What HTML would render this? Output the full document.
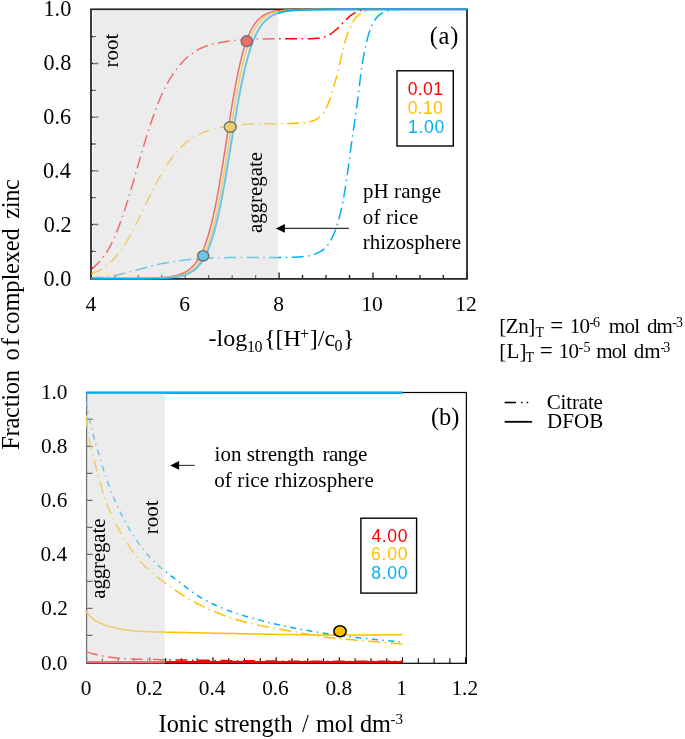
<!DOCTYPE html>
<html><head><meta charset="utf-8"><style>
html,body{margin:0;padding:0;background:#fff;}
body{width:685px;height:739px;overflow:hidden;}
svg{display:block;will-change:transform;}
</style></head><body>
<svg width="685" height="739" viewBox="0 0 685 739">
<rect x="0" y="0" width="685" height="739" fill="#fff"/>
<path d="M91.33 278.9 V272.4 M114.8 278.9 V274.9 M138.27 278.9 V274.9 M161.74 278.9 V274.9 M185.21 278.9 V272.4 M208.68 278.9 V274.9 M232.15 278.9 V274.9 M255.62 278.9 V274.9 M279.09 278.9 V272.4 M302.56 278.9 V274.9 M326.03 278.9 V274.9 M349.5 278.9 V274.9 M372.97 278.9 V272.4 M396.44 278.9 V274.9 M419.91 278.9 V274.9 M443.38 278.9 V274.9 M466.85 278.9 V272.4 M91 251.36 H96 M91 224.52 H98.3 M91 197.68 H96 M91 170.84 H98.3 M91 144 H96 M91 117.16 H98.3 M91 90.32 H96 M91 63.48 H98.3 M91 36.64 H96" stroke="#1a1a1a" stroke-width="1.3" fill="none"/>
<rect x="91" y="9.3" width="376" height="269.6" fill="none" stroke="#2a2a2a" stroke-width="1.8"/>
<path d="M91.33 269.11C91.74 268.78 92.96 267.83 93.75 267.17C94.53 266.51 95.29 265.83 96.03 265.14C96.77 264.45 97.48 263.74 98.18 263.01C98.88 262.29 99.56 261.55 100.22 260.79C100.88 260.04 101.52 259.27 102.15 258.49C102.77 257.71 103.38 256.92 103.97 256.11C104.56 255.31 105.14 254.49 105.7 253.66C106.25 252.84 106.8 252 107.33 251.15C107.86 250.3 108.37 249.44 108.87 248.57C109.37 247.7 109.86 246.82 110.34 245.94C110.81 245.05 111.28 244.16 111.73 243.26C112.18 242.36 112.62 241.45 113.05 240.54C113.49 239.62 113.91 238.7 114.32 237.78C114.73 236.85 115.13 235.92 115.53 234.98C115.92 234.05 116.31 233.11 116.69 232.17C117.07 231.23 117.45 230.28 117.81 229.33C118.18 228.38 118.54 227.43 118.9 226.48C119.26 225.53 119.61 224.58 119.96 223.62C120.31 222.67 120.65 221.72 120.99 220.76C121.33 219.81 121.67 218.85 122 217.9C122.34 216.94 122.67 215.98 122.99 215.03C123.32 214.07 123.64 213.11 123.96 212.16C124.28 211.2 124.6 210.24 124.91 209.28C125.23 208.32 125.54 207.36 125.85 206.4C126.16 205.44 126.46 204.48 126.77 203.52C127.07 202.56 127.37 201.6 127.67 200.63C127.97 199.67 128.27 198.71 128.56 197.75C128.86 196.79 129.15 195.82 129.44 194.86C129.73 193.9 130.02 192.93 130.31 191.97C130.6 191 130.88 190.04 131.17 189.07C131.45 188.11 131.74 187.14 132.02 186.18C132.3 185.21 132.58 184.25 132.86 183.28C133.14 182.31 133.42 181.35 133.7 180.38C133.98 179.41 134.26 178.45 134.54 177.48C134.81 176.51 135.09 175.55 135.37 174.58C135.64 173.61 135.92 172.64 136.2 171.68C136.47 170.71 136.75 169.74 137.03 168.77C137.3 167.81 137.58 166.84 137.86 165.87C138.14 164.9 138.41 163.93 138.69 162.96C138.97 162 139.25 161.03 139.53 160.06C139.81 159.09 140.09 158.12 140.37 157.15C140.65 156.19 140.93 155.22 141.22 154.25C141.5 153.28 141.78 152.31 142.07 151.35C142.35 150.38 142.64 149.41 142.93 148.44C143.21 147.48 143.5 146.51 143.79 145.54C144.08 144.58 144.37 143.61 144.67 142.64C144.96 141.68 145.25 140.71 145.55 139.75C145.85 138.78 146.14 137.82 146.44 136.86C146.74 135.89 147.04 134.93 147.35 133.96C147.65 133 147.96 132.04 148.26 131.08C148.57 130.12 148.88 129.16 149.19 128.19C149.51 127.23 149.82 126.27 150.14 125.32C150.45 124.36 150.77 123.4 151.09 122.44C151.42 121.48 151.74 120.53 152.07 119.57C152.39 118.62 152.72 117.66 153.06 116.71C153.39 115.76 153.72 114.8 154.06 113.85C154.4 112.9 154.74 111.95 155.09 111C155.44 110.05 155.79 109.11 156.15 108.16C156.5 107.22 156.86 106.28 157.23 105.34C157.6 104.4 157.97 103.46 158.34 102.53C158.72 101.59 159.1 100.66 159.49 99.73C159.88 98.8 160.28 97.88 160.68 96.95C161.08 96.03 161.49 95.11 161.91 94.19C162.33 93.28 162.75 92.37 163.19 91.46C163.62 90.55 164.06 89.65 164.51 88.75C164.96 87.85 165.42 86.95 165.89 86.06C166.36 85.17 166.83 84.28 167.32 83.4C167.81 82.52 168.3 81.64 168.81 80.77C169.32 79.9 169.83 79.04 170.36 78.18C170.89 77.32 171.43 76.46 171.98 75.61C172.53 74.76 173.09 73.92 173.66 73.08C174.24 72.25 174.82 71.42 175.42 70.59C176.02 69.77 176.63 68.95 177.25 68.15C177.88 67.34 178.51 66.55 179.16 65.76C179.81 64.98 180.47 64.21 181.15 63.45C181.82 62.69 182.51 61.94 183.21 61.21C183.91 60.48 184.62 59.76 185.35 59.06C186.08 58.36 186.82 57.68 187.58 57.01C188.33 56.35 189.1 55.7 189.88 55.08C190.67 54.46 191.46 53.85 192.28 53.27C193.09 52.69 193.91 52.13 194.75 51.59C195.59 51.06 196.45 50.55 197.32 50.06C198.19 49.58 199.07 49.12 199.97 48.68C200.87 48.25 201.78 47.84 202.7 47.45C203.62 47.06 204.56 46.7 205.5 46.35C206.44 46 207.4 45.68 208.36 45.37C209.32 45.07 210.29 44.78 211.27 44.51C212.25 44.24 213.23 43.98 214.22 43.74C215.21 43.5 216.2 43.28 217.2 43.07C218.2 42.86 219.2 42.66 220.2 42.47C221.21 42.29 222.21 42.11 223.22 41.95C224.22 41.78 225.23 41.62 226.24 41.48C227.24 41.33 228.25 41.19 229.26 41.06C230.26 40.93 231.27 40.81 232.28 40.69C233.28 40.58 234.29 40.47 235.3 40.37C236.3 40.27 237.31 40.18 238.32 40.09C239.32 40.01 240.33 39.93 241.34 39.86C242.34 39.78 243.35 39.71 244.36 39.65C245.36 39.59 246.37 39.53 247.37 39.48C248.38 39.43 249.38 39.38 250.39 39.34C251.4 39.29 252.4 39.25 253.4 39.22C254.41 39.18 255.41 39.15 256.42 39.12C257.42 39.09 258.42 39.07 259.43 39.04C260.43 39.02 261.43 39 262.44 38.98C263.44 38.96 264.44 38.94 265.44 38.93C266.44 38.91 267.44 38.9 268.44 38.89C269.45 38.87 270.45 38.86 271.45 38.85C272.45 38.85 273.45 38.84 274.45 38.83C275.45 38.82 276.46 38.82 277.46 38.81C278.46 38.81 279.47 38.81 280.47 38.8C281.47 38.8 282.48 38.8 283.48 38.8C284.49 38.8 285.49 38.79 286.5 38.79C287.51 38.79 288.52 38.79 289.53 38.79C290.54 38.79 291.55 38.79 292.56 38.79C293.57 38.79 294.59 38.79 295.6 38.79C296.62 38.79 297.64 38.79 298.66 38.78C299.67 38.78 300.7 38.78 301.72 38.78C302.74 38.77 303.77 38.77 304.79 38.76C305.82 38.76 306.85 38.76 307.88 38.75C308.91 38.74 309.94 38.73 310.97 38.7C312 38.67 313.03 38.64 314.05 38.58C315.07 38.52 316.08 38.45 317.09 38.35C318.09 38.24 319.08 38.11 320.06 37.94C321.04 37.77 322.01 37.58 322.96 37.33C323.91 37.08 324.84 36.8 325.75 36.46C326.67 36.12 327.56 35.73 328.42 35.28C329.29 34.84 330.14 34.33 330.96 33.78C331.79 33.24 332.59 32.64 333.38 32.02C334.17 31.39 334.94 30.72 335.7 30.04C336.46 29.36 337.21 28.64 337.95 27.91C338.68 27.19 339.41 26.45 340.13 25.7C340.86 24.96 341.57 24.21 342.28 23.47C343 22.73 343.71 21.98 344.43 21.26C345.14 20.53 345.86 19.81 346.59 19.12C347.32 18.42 348.05 17.74 348.8 17.09C349.56 16.44 350.32 15.81 351.1 15.22C351.89 14.64 352.69 14.08 353.52 13.56C354.35 13.05 355.2 12.57 356.08 12.15C356.96 11.73 357.87 11.36 358.81 11.03C359.75 10.71 360.73 10.44 361.71 10.2C362.7 9.97 363.72 9.79 364.74 9.63C365.76 9.48 366.8 9.36 367.83 9.3C368.87 9.24 369.92 9.3 370.96 9.3C372 9.3 373.05 9.3 374.07 9.3C375.1 9.3 376.12 9.29 377.12 9.3C378.12 9.31 379.57 9.36 380.06 9.37" fill="none" stroke="#FF0000" stroke-width="1.5" stroke-dasharray="12 4.5 1.5 4.5" stroke-linejoin="round"/>
<path d="M91.14 273.88C91.63 273.7 93.14 273.17 94.11 272.78C95.08 272.39 96.03 271.97 96.96 271.52C97.89 271.08 98.79 270.61 99.68 270.12C100.57 269.63 101.44 269.11 102.29 268.58C103.14 268.04 103.97 267.48 104.78 266.9C105.59 266.32 106.39 265.72 107.17 265.1C107.95 264.48 108.71 263.84 109.45 263.19C110.2 262.53 110.93 261.86 111.64 261.17C112.35 260.48 113.05 259.77 113.74 259.05C114.42 258.33 115.09 257.59 115.75 256.84C116.4 256.09 117.04 255.32 117.68 254.54C118.31 253.76 118.92 252.97 119.53 252.17C120.14 251.37 120.73 250.56 121.31 249.73C121.9 248.91 122.47 248.08 123.03 247.24C123.6 246.4 124.15 245.55 124.69 244.69C125.24 243.83 125.77 242.97 126.3 242.1C126.83 241.23 127.34 240.35 127.86 239.47C128.37 238.59 128.87 237.7 129.37 236.81C129.87 235.93 130.36 235.03 130.84 234.14C131.33 233.25 131.81 232.35 132.29 231.45C132.76 230.56 133.23 229.66 133.7 228.76C134.17 227.87 134.63 226.97 135.09 226.07C135.55 225.17 136.01 224.27 136.46 223.38C136.91 222.48 137.36 221.58 137.81 220.68C138.26 219.78 138.7 218.88 139.15 217.98C139.59 217.08 140.03 216.18 140.47 215.28C140.91 214.38 141.35 213.49 141.78 212.59C142.22 211.69 142.66 210.79 143.09 209.89C143.53 208.99 143.96 208.09 144.4 207.19C144.83 206.29 145.26 205.39 145.7 204.5C146.13 203.6 146.57 202.7 147.01 201.8C147.44 200.9 147.88 200.01 148.32 199.11C148.76 198.21 149.2 197.31 149.64 196.42C150.08 195.52 150.52 194.63 150.97 193.73C151.42 192.83 151.87 191.94 152.32 191.05C152.77 190.15 153.22 189.26 153.68 188.36C154.14 187.47 154.6 186.58 155.07 185.69C155.53 184.8 156 183.9 156.47 183.01C156.95 182.12 157.43 181.24 157.91 180.35C158.39 179.46 158.88 178.57 159.37 177.68C159.87 176.8 160.37 175.91 160.87 175.03C161.38 174.14 161.89 173.26 162.4 172.38C162.92 171.5 163.44 170.63 163.98 169.75C164.51 168.88 165.04 168.01 165.59 167.15C166.13 166.29 166.69 165.43 167.25 164.58C167.81 163.73 168.38 162.88 168.95 162.04C169.53 161.2 170.11 160.37 170.71 159.55C171.3 158.73 171.91 157.91 172.52 157.11C173.13 156.3 173.76 155.51 174.39 154.72C175.02 153.94 175.66 153.16 176.32 152.4C176.97 151.64 177.63 150.88 178.31 150.15C178.98 149.41 179.67 148.68 180.37 147.97C181.06 147.26 181.77 146.56 182.49 145.88C183.21 145.19 183.95 144.52 184.69 143.87C185.44 143.22 186.19 142.58 186.97 141.96C187.74 141.34 188.52 140.74 189.32 140.15C190.12 139.57 190.93 139 191.75 138.46C192.58 137.91 193.42 137.38 194.27 136.87C195.13 136.37 196 135.88 196.88 135.41C197.77 134.95 198.67 134.5 199.58 134.08C200.49 133.65 201.41 133.24 202.34 132.86C203.28 132.47 204.22 132.1 205.18 131.75C206.13 131.39 207.09 131.06 208.06 130.74C209.03 130.42 210.01 130.12 210.99 129.83C211.96 129.54 212.95 129.27 213.94 129C214.92 128.74 215.92 128.5 216.91 128.26C217.9 128.02 218.89 127.8 219.88 127.59C220.87 127.38 221.87 127.18 222.86 126.99C223.85 126.8 224.85 126.62 225.84 126.45C226.83 126.28 227.83 126.13 228.82 125.98C229.82 125.83 230.81 125.69 231.81 125.56C232.8 125.43 233.8 125.31 234.8 125.2C235.79 125.08 236.79 124.98 237.79 124.88C238.78 124.79 239.78 124.7 240.78 124.62C241.78 124.53 242.77 124.46 243.77 124.39C244.77 124.32 245.77 124.26 246.77 124.21C247.77 124.15 248.77 124.1 249.77 124.06C250.76 124.01 251.76 123.97 252.76 123.94C253.76 123.9 254.76 123.87 255.76 123.85C256.76 123.82 257.77 123.8 258.77 123.78C259.77 123.76 260.77 123.74 261.77 123.73C262.77 123.72 263.78 123.71 264.78 123.7C265.78 123.69 266.78 123.68 267.79 123.67C268.79 123.67 269.8 123.66 270.8 123.66C271.81 123.65 272.81 123.65 273.82 123.64C274.83 123.64 275.83 123.63 276.84 123.63C277.85 123.62 278.86 123.62 279.87 123.61C280.87 123.6 281.88 123.59 282.9 123.58C283.91 123.57 284.92 123.55 285.93 123.53C286.94 123.52 287.96 123.5 288.97 123.47C289.98 123.45 291 123.42 292.02 123.39C293.03 123.35 294.05 123.32 295.07 123.28C296.08 123.23 297.1 123.19 298.12 123.13C299.14 123.08 300.17 123.03 301.19 122.96C302.21 122.89 303.23 122.82 304.24 122.71C305.26 122.6 306.27 122.49 307.26 122.32C308.26 122.15 309.25 121.95 310.22 121.69C311.18 121.44 312.14 121.13 313.07 120.77C313.99 120.42 314.9 120.01 315.77 119.55C316.63 119.09 317.48 118.58 318.27 118.02C319.06 117.46 319.82 116.84 320.53 116.18C321.23 115.53 321.89 114.81 322.51 114.07C323.13 113.32 323.69 112.52 324.23 111.7C324.77 110.87 325.27 110.01 325.74 109.13C326.21 108.24 326.65 107.32 327.07 106.39C327.49 105.46 327.87 104.5 328.25 103.54C328.63 102.57 328.98 101.59 329.32 100.61C329.67 99.63 330 98.64 330.32 97.65C330.65 96.67 330.97 95.69 331.29 94.71C331.6 93.73 331.91 92.75 332.22 91.78C332.53 90.81 332.83 89.84 333.12 88.88C333.42 87.91 333.71 86.94 334 85.98C334.29 85.02 334.57 84.05 334.84 83.09C335.12 82.13 335.39 81.17 335.66 80.21C335.92 79.24 336.18 78.28 336.44 77.32C336.69 76.35 336.94 75.39 337.18 74.42C337.43 73.46 337.66 72.49 337.9 71.52C338.13 70.55 338.36 69.58 338.58 68.6C338.81 67.63 339.03 66.66 339.25 65.68C339.47 64.71 339.69 63.73 339.91 62.75C340.13 61.78 340.35 60.8 340.57 59.82C340.79 58.84 341.01 57.86 341.23 56.88C341.46 55.91 341.68 54.93 341.91 53.95C342.14 52.97 342.37 51.99 342.61 51.01C342.85 50.03 343.09 49.05 343.34 48.08C343.59 47.1 343.84 46.12 344.1 45.15C344.37 44.17 344.64 43.19 344.92 42.22C345.19 41.25 345.48 40.27 345.78 39.3C346.08 38.33 346.39 37.36 346.71 36.39C347.03 35.42 347.36 34.46 347.7 33.49C348.04 32.53 348.4 31.56 348.77 30.61C349.14 29.65 349.53 28.7 349.94 27.76C350.35 26.82 350.78 25.89 351.23 24.99C351.69 24.09 352.16 23.2 352.67 22.35C353.18 21.49 353.72 20.66 354.29 19.86C354.86 19.07 355.47 18.3 356.11 17.58C356.76 16.86 357.43 16.17 358.16 15.54C358.89 14.91 359.65 14.32 360.47 13.79C361.28 13.26 362.14 12.78 363.03 12.35C363.92 11.91 364.86 11.53 365.81 11.19C366.77 10.85 367.76 10.55 368.76 10.3C369.77 10.04 370.8 9.81 371.83 9.64C372.87 9.48 373.92 9.36 374.97 9.3C376.02 9.24 377.09 9.3 378.14 9.3C379.18 9.3 380.24 9.3 381.27 9.3C382.3 9.3 383.33 9.3 384.33 9.3C385.32 9.3 386.31 9.29 387.26 9.3C388.21 9.31 389.55 9.35 390.01 9.36" fill="none" stroke="#FFC000" stroke-width="1.5" stroke-dasharray="12 4.5 1.5 4.5" stroke-linejoin="round"/>
<path d="M91.25 277.58C91.76 277.59 93.31 277.63 94.33 277.63C95.35 277.63 96.37 277.61 97.39 277.58C98.4 277.54 99.41 277.49 100.42 277.42C101.43 277.35 102.44 277.26 103.44 277.16C104.45 277.07 105.45 276.95 106.45 276.83C107.45 276.7 108.44 276.56 109.44 276.41C110.43 276.25 111.42 276.09 112.41 275.91C113.4 275.74 114.39 275.55 115.38 275.36C116.37 275.16 117.35 274.95 118.33 274.74C119.32 274.53 120.3 274.3 121.28 274.07C122.26 273.84 123.24 273.61 124.21 273.36C125.19 273.12 126.17 272.87 127.14 272.62C128.12 272.37 129.1 272.11 130.07 271.84C131.05 271.58 132.02 271.32 132.99 271.05C133.97 270.78 134.94 270.51 135.91 270.24C136.89 269.97 137.86 269.7 138.83 269.42C139.81 269.15 140.78 268.88 141.75 268.61C142.73 268.34 143.7 268.07 144.68 267.8C145.65 267.53 146.63 267.27 147.6 267.01C148.58 266.75 149.56 266.49 150.54 266.24C151.52 265.99 152.49 265.74 153.48 265.5C154.46 265.26 155.44 265.02 156.42 264.79C157.41 264.57 158.39 264.35 159.38 264.13C160.36 263.92 161.35 263.71 162.34 263.51C163.33 263.31 164.32 263.12 165.31 262.93C166.31 262.75 167.3 262.57 168.29 262.39C169.29 262.22 170.28 262.05 171.28 261.89C172.28 261.73 173.27 261.57 174.27 261.42C175.27 261.27 176.27 261.13 177.27 260.99C178.27 260.85 179.27 260.72 180.27 260.59C181.27 260.46 182.28 260.34 183.28 260.22C184.28 260.1 185.29 259.99 186.29 259.88C187.3 259.78 188.3 259.67 189.31 259.58C190.31 259.48 191.32 259.38 192.33 259.29C193.33 259.21 194.34 259.12 195.35 259.04C196.35 258.96 197.36 258.88 198.37 258.81C199.38 258.74 200.39 258.67 201.39 258.61C202.4 258.54 203.41 258.48 204.42 258.42C205.43 258.37 206.44 258.31 207.44 258.26C208.45 258.21 209.46 258.16 210.47 258.12C211.48 258.07 212.49 258.03 213.49 257.99C214.5 257.96 215.51 257.92 216.52 257.89C217.52 257.85 218.53 257.82 219.54 257.8C220.55 257.77 221.55 257.74 222.56 257.72C223.57 257.69 224.58 257.67 225.58 257.65C226.59 257.64 227.6 257.62 228.6 257.6C229.61 257.59 230.62 257.58 231.63 257.56C232.63 257.55 233.64 257.54 234.65 257.53C235.65 257.53 236.66 257.52 237.67 257.51C238.68 257.51 239.68 257.5 240.69 257.5C241.7 257.5 242.71 257.5 243.72 257.49C244.72 257.49 245.73 257.49 246.74 257.49C247.75 257.49 248.76 257.49 249.77 257.5C250.77 257.5 251.78 257.5 252.79 257.5C253.8 257.5 254.81 257.51 255.82 257.51C256.83 257.51 257.84 257.52 258.85 257.52C259.86 257.52 260.87 257.52 261.88 257.53C262.89 257.53 263.91 257.53 264.92 257.53C265.93 257.54 266.94 257.54 267.95 257.54C268.97 257.54 269.98 257.54 270.99 257.54C272.01 257.54 273.02 257.53 274.03 257.53C275.05 257.53 276.06 257.53 277.08 257.52C278.09 257.52 279.11 257.51 280.13 257.5C281.14 257.49 282.16 257.49 283.18 257.47C284.19 257.46 285.21 257.45 286.23 257.44C287.25 257.42 288.27 257.41 289.29 257.39C290.31 257.37 291.33 257.35 292.35 257.33C293.37 257.3 294.39 257.27 295.41 257.23C296.42 257.19 297.44 257.15 298.46 257.09C299.47 257.02 300.48 256.95 301.49 256.86C302.49 256.76 303.5 256.65 304.49 256.52C305.49 256.39 306.48 256.23 307.47 256.05C308.45 255.87 309.43 255.67 310.4 255.43C311.37 255.19 312.33 254.93 313.29 254.63C314.24 254.33 315.18 253.99 316.11 253.62C317.04 253.25 317.97 252.84 318.86 252.38C319.76 251.93 320.64 251.44 321.48 250.9C322.32 250.36 323.14 249.78 323.91 249.15C324.67 248.52 325.4 247.84 326.08 247.12C326.76 246.4 327.39 245.62 327.99 244.82C328.59 244.02 329.14 243.17 329.67 242.31C330.2 241.45 330.69 240.56 331.16 239.66C331.64 238.77 332.09 237.85 332.53 236.94C332.96 236.02 333.37 235.09 333.77 234.16C334.17 233.23 334.55 232.29 334.92 231.34C335.28 230.4 335.63 229.44 335.97 228.48C336.3 227.53 336.62 226.56 336.93 225.6C337.25 224.63 337.54 223.66 337.83 222.69C338.12 221.71 338.4 220.74 338.67 219.76C338.94 218.78 339.2 217.8 339.46 216.82C339.72 215.84 339.97 214.86 340.21 213.88C340.45 212.9 340.69 211.91 340.92 210.93C341.15 209.95 341.37 208.96 341.59 207.98C341.81 206.99 342.02 206.01 342.23 205.02C342.44 204.03 342.64 203.05 342.83 202.06C343.03 201.07 343.22 200.08 343.41 199.09C343.6 198.1 343.78 197.11 343.96 196.12C344.14 195.13 344.31 194.14 344.48 193.14C344.65 192.15 344.82 191.16 344.98 190.17C345.15 189.17 345.31 188.18 345.46 187.18C345.62 186.19 345.77 185.19 345.92 184.2C346.08 183.2 346.22 182.21 346.37 181.21C346.52 180.21 346.66 179.21 346.8 178.22C346.94 177.22 347.08 176.22 347.22 175.22C347.36 174.22 347.49 173.23 347.63 172.23C347.76 171.23 347.9 170.23 348.03 169.23C348.17 168.23 348.3 167.23 348.43 166.23C348.56 165.22 348.69 164.22 348.83 163.22C348.96 162.22 349.09 161.22 349.22 160.22C349.35 159.21 349.48 158.21 349.62 157.21C349.75 156.21 349.88 155.21 350.02 154.2C350.15 153.2 350.29 152.2 350.42 151.19C350.56 150.19 350.7 149.19 350.84 148.18C350.98 147.18 351.12 146.18 351.26 145.17C351.4 144.17 351.54 143.17 351.68 142.16C351.83 141.16 351.97 140.16 352.11 139.15C352.26 138.15 352.4 137.14 352.55 136.14C352.69 135.14 352.84 134.13 352.98 133.13C353.13 132.13 353.27 131.12 353.42 130.12C353.56 129.12 353.71 128.11 353.85 127.11C354 126.11 354.14 125.1 354.29 124.1C354.43 123.1 354.58 122.09 354.72 121.09C354.87 120.09 355.01 119.09 355.15 118.08C355.3 117.08 355.44 116.08 355.58 115.08C355.72 114.08 355.86 113.07 356 112.07C356.14 111.07 356.28 110.07 356.42 109.07C356.56 108.07 356.7 107.07 356.83 106.07C356.97 105.07 357.1 104.07 357.24 103.07C357.37 102.07 357.5 101.07 357.63 100.08C357.76 99.08 357.89 98.08 358.01 97.08C358.14 96.09 358.26 95.09 358.39 94.09C358.51 93.1 358.63 92.1 358.75 91.1C358.88 90.11 359 89.11 359.12 88.12C359.24 87.12 359.35 86.13 359.47 85.13C359.59 84.14 359.71 83.15 359.84 82.15C359.96 81.16 360.08 80.16 360.2 79.17C360.33 78.18 360.45 77.18 360.58 76.19C360.71 75.19 360.83 74.2 360.97 73.21C361.1 72.21 361.23 71.22 361.37 70.23C361.51 69.23 361.65 68.24 361.79 67.24C361.94 66.25 362.08 65.25 362.24 64.26C362.39 63.27 362.55 62.27 362.71 61.28C362.87 60.28 363.04 59.28 363.21 58.29C363.38 57.29 363.56 56.3 363.74 55.3C363.92 54.3 364.11 53.3 364.31 52.31C364.51 51.31 364.71 50.31 364.92 49.31C365.13 48.31 365.35 47.31 365.57 46.31C365.8 45.31 366.03 44.31 366.27 43.31C366.51 42.31 366.76 41.31 367.02 40.3C367.27 39.3 367.54 38.3 367.82 37.29C368.09 36.29 368.38 35.28 368.68 34.28C368.98 33.28 369.28 32.28 369.61 31.29C369.94 30.3 370.29 29.32 370.66 28.36C371.03 27.4 371.41 26.46 371.83 25.53C372.24 24.61 372.68 23.71 373.15 22.84C373.62 21.97 374.12 21.12 374.65 20.32C375.19 19.51 375.75 18.73 376.36 18C376.97 17.26 377.61 16.57 378.3 15.92C378.99 15.28 379.71 14.67 380.49 14.12C381.27 13.58 382.09 13.08 382.96 12.64C383.83 12.2 384.74 11.81 385.68 11.47C386.63 11.12 387.61 10.83 388.61 10.57C389.61 10.32 390.64 10.11 391.68 9.93C392.72 9.74 393.78 9.59 394.84 9.49C395.9 9.39 396.97 9.33 398.03 9.3C399.09 9.27 400.16 9.3 401.2 9.3C402.24 9.3 403.28 9.3 404.29 9.3C405.29 9.3 406.28 9.29 407.23 9.3C408.18 9.31 409.53 9.36 409.99 9.37" fill="none" stroke="#00B0F0" stroke-width="1.5" stroke-dasharray="12 4.5 1.5 4.5" stroke-linejoin="round"/>
<path d="M91.33 278.49C93.48 278.49 99.94 278.49 104.24 278.49C108.54 278.48 112.84 278.48 117.15 278.47C121.45 278.46 125.75 278.45 130.06 278.42C134.36 278.39 139.64 278.34 142.96 278.29C146.29 278.24 148.05 278.19 150.01 278.14C151.96 278.09 153.33 278.03 154.7 277.98C156.07 277.92 157.05 277.88 158.22 277.81C159.39 277.74 160.76 277.65 161.74 277.58C162.72 277.52 163.3 277.46 164.09 277.39C164.87 277.32 165.65 277.25 166.43 277.16C167.22 277.07 168.19 276.95 168.78 276.87C169.37 276.8 169.56 276.77 169.95 276.71C170.35 276.65 170.74 276.59 171.13 276.53C171.52 276.46 171.91 276.4 172.3 276.33C172.69 276.26 173.08 276.18 173.48 276.1C173.87 276.03 174.26 275.94 174.65 275.86C175.04 275.77 175.43 275.68 175.82 275.59C176.21 275.49 176.6 275.39 177 275.29C177.39 275.18 177.78 275.07 178.17 274.95C178.56 274.84 178.95 274.72 179.34 274.59C179.73 274.46 180.12 274.32 180.52 274.18C180.91 274.04 181.3 273.89 181.69 273.73C182.08 273.58 182.47 273.41 182.86 273.24C183.25 273.07 183.65 272.88 184.04 272.69C184.43 272.5 184.82 272.3 185.21 272.09C185.6 271.87 185.99 271.65 186.38 271.42C186.77 271.18 187.17 270.94 187.56 270.68C187.95 270.42 188.34 270.15 188.73 269.86C189.12 269.58 189.51 269.28 189.9 268.96C190.3 268.65 190.69 268.32 191.08 267.97C191.47 267.62 191.86 267.26 192.25 266.87C192.64 266.49 193.03 266.09 193.42 265.66C193.82 265.24 194.21 264.8 194.6 264.33C194.99 263.87 195.38 263.38 195.77 262.87C196.16 262.35 196.55 261.82 196.95 261.25C197.34 260.69 197.73 260.1 198.12 259.48C198.51 258.86 198.9 258.22 199.29 257.54C199.68 256.86 200.07 256.15 200.47 255.4C200.86 254.66 201.25 253.89 201.64 253.07C202.03 252.26 202.42 251.41 202.81 250.52C203.2 249.63 203.59 248.71 203.99 247.74C204.38 246.77 204.77 245.76 205.16 244.71C205.55 243.65 205.94 242.56 206.33 241.41C206.72 240.27 207.12 239.08 207.51 237.84C207.9 236.6 208.29 235.32 208.68 233.98C209.07 232.65 209.46 231.26 209.85 229.82C210.24 228.39 210.64 226.9 211.03 225.35C211.42 223.81 211.81 222.22 212.2 220.57C212.59 218.92 212.98 217.21 213.37 215.46C213.77 213.7 214.16 211.89 214.55 210.03C214.94 208.17 215.33 206.25 215.72 204.28C216.11 202.32 216.5 200.3 216.89 198.23C217.29 196.17 217.68 194.05 218.07 191.89C218.46 189.73 218.85 187.52 219.24 185.27C219.63 183.02 220.02 180.73 220.42 178.4C220.81 176.08 221.2 173.71 221.59 171.32C221.98 168.93 222.37 166.5 222.76 164.05C223.15 161.61 223.54 159.13 223.94 156.64C224.33 154.15 224.72 151.64 225.11 149.13C225.5 146.62 225.89 144.09 226.28 141.57C226.67 139.04 227.06 136.51 227.46 133.99C227.85 131.48 228.24 128.96 228.63 126.46C229.02 123.97 229.41 121.48 229.8 119.02C230.19 116.57 230.59 114.12 230.98 111.72C231.37 109.31 231.76 106.93 232.15 104.59C232.54 102.25 232.93 99.93 233.32 97.67C233.71 95.41 234.11 93.18 234.5 91C234.89 88.83 235.28 86.69 235.67 84.61C236.06 82.53 236.45 80.5 236.84 78.52C237.24 76.54 237.63 74.61 238.02 72.74C238.41 70.87 238.8 69.06 239.19 67.3C239.58 65.53 239.97 63.83 240.36 62.18C240.76 60.53 241.15 58.94 241.54 57.4C241.93 55.87 242.32 54.38 242.71 52.96C243.1 51.53 243.49 50.16 243.89 48.84C244.28 47.52 244.67 46.25 245.06 45.04C245.45 43.82 245.84 42.66 246.23 41.54C246.62 40.42 247.01 39.36 247.41 38.34C247.8 37.31 248.19 36.34 248.58 35.41C248.97 34.47 249.36 33.59 249.75 32.74C250.14 31.89 250.53 31.08 250.93 30.31C251.32 29.54 251.71 28.81 252.1 28.11C252.49 27.41 252.88 26.75 253.27 26.12C253.66 25.49 254.06 24.9 254.45 24.33C254.84 23.76 255.23 23.22 255.62 22.71C256.01 22.19 256.4 21.71 256.79 21.25C257.18 20.79 257.58 20.36 257.97 19.94C258.36 19.53 258.75 19.14 259.14 18.77C259.53 18.4 259.92 18.05 260.31 17.72C260.71 17.39 261.1 17.08 261.49 16.78C261.88 16.48 262.27 16.21 262.66 15.94C263.05 15.68 263.44 15.43 263.83 15.19C264.23 14.96 264.62 14.73 265.01 14.52C265.4 14.31 265.79 14.12 266.18 13.93C266.57 13.74 266.96 13.57 267.36 13.4C267.75 13.23 268.14 13.08 268.53 12.93C268.92 12.78 269.31 12.64 269.7 12.51C270.09 12.38 270.48 12.25 270.88 12.14C271.27 12.02 271.66 11.91 272.05 11.81C272.44 11.7 272.83 11.61 273.22 11.52C273.61 11.42 274 11.34 274.4 11.26C274.79 11.17 275.18 11.1 275.57 11.03C275.96 10.95 276.35 10.89 276.74 10.82C277.13 10.76 277.53 10.7 277.92 10.64C278.31 10.59 278.5 10.55 279.09 10.48C279.68 10.41 280.65 10.3 281.44 10.22C282.22 10.14 283 10.07 283.78 10.01C284.57 9.95 285.15 9.91 286.13 9.85C287.11 9.8 288.28 9.73 289.65 9.67C291.02 9.62 291.8 9.57 294.35 9.52C296.89 9.47 301 9.4 304.91 9.37C308.82 9.33 313.51 9.33 317.82 9.32C322.12 9.3 326.42 9.31 330.72 9.3C335.03 9.3 339.33 9.3 343.63 9.3C347.94 9.3 352.24 9.3 356.54 9.3C360.84 9.3 365.15 9.3 369.45 9.3C373.75 9.3 378.06 9.3 382.36 9.3C386.66 9.3 390.96 9.3 395.27 9.3C399.57 9.3 403.87 9.3 408.18 9.3C412.48 9.3 416.78 9.3 421.08 9.3C425.39 9.3 429.69 9.3 433.99 9.3C438.29 9.3 442.6 9.3 446.9 9.3C451.2 9.3 456.48 9.3 459.81 9.3C463.13 9.3 465.68 9.3 466.85 9.3" fill="none" stroke="#FF0000" stroke-width="1.5" stroke-linejoin="round"/>
<path d="M91.33 278.5C93.48 278.5 99.94 278.5 104.24 278.5C108.54 278.49 112.84 278.49 117.15 278.49C121.45 278.48 125.75 278.48 130.06 278.47C134.36 278.45 139.05 278.43 142.96 278.39C146.88 278.35 150.79 278.29 153.53 278.23C156.26 278.17 157.83 278.1 159.39 278.04C160.96 277.98 161.74 277.94 162.91 277.87C164.09 277.81 165.46 277.72 166.43 277.64C167.41 277.57 168 277.52 168.78 277.44C169.56 277.37 170.35 277.29 171.13 277.2C171.91 277.11 172.89 276.97 173.48 276.89C174.06 276.81 174.26 276.78 174.65 276.71C175.04 276.65 175.43 276.58 175.82 276.51C176.21 276.44 176.6 276.37 177 276.29C177.39 276.22 177.78 276.13 178.17 276.05C178.56 275.96 178.95 275.87 179.34 275.78C179.73 275.68 180.12 275.58 180.52 275.47C180.91 275.37 181.3 275.25 181.69 275.14C182.08 275.02 182.47 274.89 182.86 274.76C183.25 274.63 183.65 274.49 184.04 274.34C184.43 274.2 184.82 274.05 185.21 273.88C185.6 273.72 185.99 273.55 186.38 273.37C186.77 273.19 187.17 273 187.56 272.8C187.95 272.6 188.34 272.39 188.73 272.17C189.12 271.95 189.51 271.71 189.9 271.47C190.3 271.22 190.69 270.96 191.08 270.69C191.47 270.42 191.86 270.13 192.25 269.83C192.64 269.53 193.03 269.21 193.42 268.88C193.82 268.54 194.21 268.19 194.6 267.82C194.99 267.45 195.38 267.06 195.77 266.65C196.16 266.24 196.55 265.81 196.95 265.36C197.34 264.91 197.73 264.44 198.12 263.94C198.51 263.44 198.9 262.92 199.29 262.36C199.68 261.81 200.07 261.24 200.47 260.63C200.86 260.03 201.25 259.39 201.64 258.73C202.03 258.06 202.42 257.37 202.81 256.64C203.2 255.9 203.59 255.14 203.99 254.34C204.38 253.54 204.77 252.7 205.16 251.83C205.55 250.95 205.94 250.04 206.33 249.08C206.72 248.12 207.12 247.12 207.51 246.08C207.9 245.04 208.29 243.95 208.68 242.82C209.07 241.69 209.46 240.51 209.85 239.28C210.24 238.06 210.64 236.78 211.03 235.46C211.42 234.13 211.81 232.75 212.2 231.33C212.59 229.9 212.98 228.42 213.37 226.88C213.77 225.35 214.16 223.77 214.55 222.13C214.94 220.49 215.33 218.79 215.72 217.05C216.11 215.3 216.5 213.5 216.89 211.65C217.29 209.79 217.68 207.89 218.07 205.93C218.46 203.97 218.85 201.96 219.24 199.91C219.63 197.85 220.02 195.75 220.42 193.6C220.81 191.45 221.2 189.25 221.59 187.01C221.98 184.78 222.37 182.5 222.76 180.18C223.15 177.87 223.54 175.52 223.94 173.14C224.33 170.76 224.72 168.34 225.11 165.91C225.5 163.48 225.89 161.02 226.28 158.54C226.67 156.07 227.06 153.58 227.46 151.08C227.85 148.58 228.24 146.07 228.63 143.56C229.02 141.05 229.41 138.54 229.8 136.04C230.19 133.53 230.59 131.03 230.98 128.55C231.37 126.07 231.76 123.6 232.15 121.15C232.54 118.71 232.93 116.28 233.32 113.89C233.71 111.49 234.11 109.12 234.5 106.79C234.89 104.46 235.28 102.16 235.67 99.91C236.06 97.65 236.45 95.43 236.84 93.26C237.24 91.09 237.63 88.96 238.02 86.89C238.41 84.81 238.8 82.78 239.19 80.8C239.58 78.82 239.97 76.9 240.36 75.02C240.76 73.15 241.15 71.33 241.54 69.56C241.93 67.8 242.32 66.09 242.71 64.43C243.1 62.77 243.49 61.17 243.89 59.62C244.28 58.07 244.67 56.58 245.06 55.14C245.45 53.7 245.84 52.31 246.23 50.97C246.62 49.64 247.01 48.36 247.41 47.12C247.8 45.89 248.19 44.7 248.58 43.57C248.97 42.43 249.36 41.34 249.75 40.3C250.14 39.25 250.53 38.26 250.93 37.3C251.32 36.34 251.71 35.43 252.1 34.56C252.49 33.68 252.88 32.85 253.27 32.06C253.66 31.26 254.06 30.51 254.45 29.78C254.84 29.06 255.23 28.37 255.62 27.71C256.01 27.06 256.4 26.43 256.79 25.84C257.18 25.24 257.58 24.68 257.97 24.14C258.36 23.6 258.75 23.09 259.14 22.61C259.53 22.12 259.92 21.66 260.31 21.22C260.71 20.79 261.1 20.37 261.49 19.98C261.88 19.58 262.27 19.21 262.66 18.85C263.05 18.5 263.44 18.16 263.83 17.84C264.23 17.52 264.62 17.22 265.01 16.94C265.4 16.65 265.79 16.38 266.18 16.12C266.57 15.86 266.96 15.62 267.36 15.39C267.75 15.16 268.14 14.94 268.53 14.74C268.92 14.53 269.31 14.34 269.7 14.15C270.09 13.97 270.48 13.79 270.88 13.63C271.27 13.46 271.66 13.31 272.05 13.16C272.44 13.01 272.83 12.87 273.22 12.74C273.61 12.61 274 12.48 274.4 12.36C274.79 12.25 275.18 12.14 275.57 12.03C275.96 11.92 276.35 11.83 276.74 11.73C277.13 11.64 277.53 11.55 277.92 11.47C278.31 11.38 278.7 11.3 279.09 11.23C279.48 11.15 279.87 11.08 280.26 11.02C280.65 10.95 281.05 10.89 281.44 10.83C281.83 10.77 282.22 10.71 282.61 10.66C283 10.6 283.2 10.57 283.78 10.51C284.37 10.44 285.35 10.33 286.13 10.25C286.91 10.18 287.7 10.11 288.48 10.05C289.26 9.99 289.85 9.95 290.83 9.9C291.8 9.84 292.98 9.77 294.35 9.72C295.71 9.66 296.69 9.61 299.04 9.56C301.39 9.51 304.71 9.44 308.43 9.4C312.14 9.36 317.03 9.34 321.34 9.33C325.64 9.31 329.94 9.31 334.24 9.31C338.55 9.3 342.85 9.3 347.15 9.3C351.46 9.3 355.76 9.3 360.06 9.3C364.36 9.3 368.67 9.3 372.97 9.3C377.27 9.3 381.58 9.3 385.88 9.3C390.18 9.3 394.48 9.3 398.79 9.3C403.09 9.3 407.39 9.3 411.7 9.3C416 9.3 420.3 9.3 424.6 9.3C428.91 9.3 433.21 9.3 437.51 9.3C441.82 9.3 446.12 9.3 450.42 9.3C454.72 9.3 460.59 9.3 463.33 9.3C466.07 9.3 466.26 9.3 466.85 9.3" fill="none" stroke="#FFC000" stroke-width="1.5" stroke-linejoin="round"/>
<path d="M91.33 278.5C93.48 278.5 99.94 278.5 104.24 278.5C108.54 278.5 112.84 278.5 117.15 278.5C121.45 278.49 125.75 278.49 130.06 278.48C134.36 278.47 138.66 278.47 142.96 278.44C147.27 278.4 152.74 278.33 155.87 278.28C159 278.22 160.18 278.16 161.74 278.11C163.3 278.05 164.09 278.01 165.26 277.95C166.43 277.89 167.8 277.8 168.78 277.73C169.76 277.66 170.35 277.61 171.13 277.54C171.91 277.46 172.69 277.39 173.48 277.3C174.26 277.21 175.24 277.07 175.82 276.99C176.41 276.91 176.6 276.88 177 276.82C177.39 276.75 177.78 276.69 178.17 276.62C178.56 276.55 178.95 276.48 179.34 276.4C179.73 276.32 180.12 276.24 180.52 276.15C180.91 276.06 181.3 275.97 181.69 275.88C182.08 275.78 182.47 275.68 182.86 275.57C183.25 275.46 183.65 275.35 184.04 275.23C184.43 275.11 184.82 274.98 185.21 274.85C185.6 274.71 185.99 274.57 186.38 274.42C186.77 274.27 187.17 274.12 187.56 273.95C187.95 273.78 188.34 273.61 188.73 273.43C189.12 273.24 189.51 273.05 189.9 272.84C190.3 272.64 190.69 272.42 191.08 272.19C191.47 271.96 191.86 271.72 192.25 271.47C192.64 271.22 193.03 270.95 193.42 270.67C193.82 270.39 194.21 270.1 194.6 269.78C194.99 269.47 195.38 269.15 195.77 268.8C196.16 268.46 196.55 268.09 196.95 267.71C197.34 267.33 197.73 266.93 198.12 266.51C198.51 266.09 198.9 265.64 199.29 265.18C199.68 264.71 200.07 264.22 200.47 263.71C200.86 263.19 201.25 262.66 201.64 262.09C202.03 261.52 202.42 260.93 202.81 260.31C203.2 259.69 203.59 259.04 203.99 258.35C204.38 257.67 204.77 256.95 205.16 256.2C205.55 255.45 205.94 254.67 206.33 253.85C206.72 253.03 207.12 252.18 207.51 251.28C207.9 250.39 208.29 249.45 208.68 248.48C209.07 247.5 209.46 246.49 209.85 245.43C210.24 244.37 210.64 243.27 211.03 242.12C211.42 240.97 211.81 239.78 212.2 238.54C212.59 237.29 212.98 236.01 213.37 234.67C213.77 233.33 214.16 231.95 214.55 230.51C214.94 229.08 215.33 227.59 215.72 226.06C216.11 224.52 216.5 222.94 216.89 221.3C217.29 219.66 217.68 217.98 218.07 216.24C218.46 214.5 218.85 212.71 219.24 210.88C219.63 209.04 220.02 207.16 220.42 205.22C220.81 203.29 221.2 201.31 221.59 199.29C221.98 197.26 222.37 195.19 222.76 193.08C223.15 190.97 223.54 188.82 223.94 186.63C224.33 184.45 224.72 182.22 225.11 179.97C225.5 177.71 225.89 175.42 226.28 173.11C226.67 170.79 227.06 168.45 227.46 166.09C227.85 163.73 228.24 161.35 228.63 158.95C229.02 156.56 229.41 154.15 229.8 151.74C230.19 149.32 230.59 146.9 230.98 144.48C231.37 142.06 231.76 139.64 232.15 137.23C232.54 134.82 232.93 132.41 233.32 130.02C233.71 127.63 234.11 125.25 234.5 122.89C234.89 120.54 235.28 118.2 235.67 115.89C236.06 113.59 236.45 111.3 236.84 109.06C237.24 106.81 237.63 104.59 238.02 102.41C238.41 100.23 238.8 98.09 239.19 95.99C239.58 93.89 239.97 91.82 240.36 89.81C240.76 87.79 241.15 85.82 241.54 83.9C241.93 81.97 242.32 80.09 242.71 78.26C243.1 76.43 243.49 74.65 243.89 72.92C244.28 71.19 244.67 69.51 245.06 67.88C245.45 66.24 245.84 64.66 246.23 63.13C246.62 61.6 247.01 60.12 247.41 58.68C247.8 57.25 248.19 55.86 248.58 54.53C248.97 53.19 249.36 51.9 249.75 50.66C250.14 49.42 250.53 48.22 250.93 47.07C251.32 45.92 251.71 44.81 252.1 43.75C252.49 42.68 252.88 41.66 253.27 40.68C253.66 39.7 254.06 38.76 254.45 37.86C254.84 36.95 255.23 36.09 255.62 35.26C256.01 34.43 256.4 33.64 256.79 32.88C257.18 32.12 257.58 31.39 257.97 30.7C258.36 30 258.75 29.34 259.14 28.71C259.53 28.07 259.92 27.47 260.31 26.89C260.71 26.31 261.1 25.76 261.49 25.23C261.88 24.7 262.27 24.2 262.66 23.72C263.05 23.24 263.44 22.78 263.83 22.35C264.23 21.91 264.62 21.5 265.01 21.1C265.4 20.7 265.79 20.33 266.18 19.97C266.57 19.61 266.96 19.27 267.36 18.94C267.75 18.61 268.14 18.31 268.53 18.01C268.92 17.71 269.31 17.44 269.7 17.17C270.09 16.9 270.48 16.65 270.88 16.41C271.27 16.16 271.66 15.93 272.05 15.72C272.44 15.5 272.83 15.29 273.22 15.09C273.61 14.89 274 14.71 274.4 14.53C274.79 14.35 275.18 14.18 275.57 14.02C275.96 13.86 276.35 13.7 276.74 13.56C277.13 13.41 277.53 13.27 277.92 13.14C278.31 13.01 278.7 12.89 279.09 12.77C279.48 12.65 279.87 12.53 280.26 12.43C280.65 12.32 281.05 12.22 281.44 12.12C281.83 12.02 282.22 11.93 282.61 11.85C283 11.76 283.39 11.68 283.78 11.6C284.18 11.52 284.57 11.44 284.96 11.37C285.35 11.3 285.74 11.23 286.13 11.17C286.52 11.1 286.91 11.04 287.3 10.99C287.7 10.93 287.89 10.9 288.48 10.82C289.06 10.75 290.04 10.62 290.83 10.54C291.61 10.45 292.39 10.38 293.17 10.31C293.95 10.24 294.74 10.18 295.52 10.12C296.3 10.06 296.89 10.02 297.87 9.97C298.84 9.91 300.02 9.85 301.39 9.79C302.76 9.74 303.93 9.68 306.08 9.63C308.23 9.57 310.77 9.51 314.3 9.46C317.82 9.41 322.9 9.38 327.2 9.35C331.51 9.33 335.81 9.33 340.11 9.32C344.41 9.31 348.72 9.31 353.02 9.31C357.32 9.3 361.63 9.3 365.93 9.3C370.23 9.3 374.53 9.3 378.84 9.3C383.14 9.3 387.44 9.3 391.75 9.3C396.05 9.3 400.35 9.3 404.65 9.3C408.96 9.3 413.26 9.3 417.56 9.3C421.87 9.3 426.17 9.3 430.47 9.3C434.77 9.3 439.08 9.3 443.38 9.3C447.68 9.3 452.38 9.3 456.29 9.3C460.2 9.3 465.09 9.3 466.85 9.3" fill="none" stroke="#00B0F0" stroke-width="2.0" stroke-linejoin="round"/>
<ellipse cx="246.8" cy="41.2" rx="5.6" ry="5.4" fill="#FF0000" stroke="#000" stroke-width="1.4"/>
<ellipse cx="230.2" cy="127.0" rx="6.0" ry="5.2" fill="#FFC000" stroke="#000" stroke-width="1.4"/>
<ellipse cx="203.2" cy="255.8" rx="5.6" ry="5.2" fill="#00B0F0" stroke="#000" stroke-width="1.4"/>
<rect x="93" y="10.2" width="185" height="267.6" fill="#D9D9D9" fill-opacity="0.5"/>
<path d="M86.6 663.3 V657.3 M102.39 663.3 V658.3 M118.19 663.3 V658.3 M133.99 663.3 V658.3 M149.78 663.3 V657.3 M165.57 663.3 V658.3 M181.37 663.3 V658.3 M197.16 663.3 V658.3 M212.96 663.3 V657.3 M228.75 663.3 V658.3 M244.55 663.3 V658.3 M260.35 663.3 V658.3 M276.14 663.3 V657.3 M291.93 663.3 V658.3 M307.73 663.3 V658.3 M323.52 663.3 V658.3 M339.32 663.3 V657.3 M355.12 663.3 V658.3 M370.91 663.3 V658.3 M386.71 663.3 V658.3 M402.5 663.3 V657.3 M418.29 663.3 V658.3 M434.09 663.3 V658.3 M449.88 663.3 V658.3 M465.68 663.3 V657.3 M86.6 635.4 H92.6 M86.6 608.4 H92.6 M86.6 581.4 H92.6 M86.6 554.4 H92.6 M86.6 527.4 H92.6 M86.6 500.4 H92.6 M86.6 473.4 H92.6 M86.6 446.4 H92.6 M86.6 419.4 H92.6" stroke="#000" stroke-width="1.1" fill="none"/>
<rect x="86.6" y="392.5" width="379.8" height="270.8" fill="none" stroke="#000" stroke-width="1.2"/>
<path d="M86.6 661.9C139.25 661.9 349.85 661.9 402.5 661.9" fill="none" stroke="#FF0000" stroke-width="2.0" stroke-linejoin="round"/>
<path d="M86.22 651.7C86.7 651.86 88.13 652.35 89.09 652.65C90.05 652.96 91.02 653.24 91.98 653.52C92.95 653.79 93.92 654.06 94.89 654.3C95.86 654.55 96.84 654.79 97.82 655.01C98.8 655.23 99.78 655.44 100.76 655.64C101.74 655.84 102.73 656.03 103.72 656.21C104.71 656.39 105.7 656.55 106.69 656.71C107.68 656.86 108.68 657.01 109.67 657.15C110.67 657.28 111.67 657.41 112.67 657.53C113.67 657.65 114.68 657.76 115.68 657.86C116.68 657.97 117.69 658.06 118.7 658.15C119.71 658.24 120.71 658.32 121.73 658.39C122.74 658.47 123.75 658.54 124.76 658.6C125.77 658.66 126.79 658.72 127.8 658.77C128.82 658.82 129.83 658.87 130.85 658.91C131.87 658.96 132.89 659 133.9 659.03C134.92 659.07 135.94 659.1 136.96 659.13C137.98 659.16 139 659.19 140.02 659.21C141.04 659.24 142.06 659.26 143.08 659.28C144.1 659.31 145.12 659.33 146.14 659.35C147.16 659.37 148.18 659.39 149.2 659.41C150.23 659.43 151.25 659.45 152.27 659.47C153.29 659.49 154.31 659.51 155.33 659.53C156.35 659.55 157.37 659.57 158.39 659.59C159.41 659.6 160.43 659.62 161.45 659.64C162.47 659.66 163.48 659.68 164.5 659.7C165.52 659.72 166.54 659.73 167.56 659.75C168.58 659.77 169.6 659.79 170.62 659.81C171.64 659.82 172.66 659.84 173.68 659.86C174.7 659.88 175.72 659.89 176.73 659.91C177.75 659.93 178.77 659.94 179.79 659.96C180.81 659.98 181.83 659.99 182.85 660.01C183.86 660.03 184.88 660.04 185.9 660.06C186.92 660.07 187.94 660.09 188.96 660.11C189.97 660.12 190.99 660.14 192.01 660.15C193.03 660.17 194.05 660.18 195.06 660.2C196.08 660.21 197.1 660.23 198.12 660.24C199.14 660.26 200.15 660.27 201.17 660.28C202.19 660.3 203.21 660.31 204.22 660.33C205.24 660.34 206.26 660.35 207.28 660.37C208.29 660.38 209.31 660.39 210.33 660.41C211.35 660.42 212.36 660.43 213.38 660.45C214.4 660.46 215.41 660.47 216.43 660.48C217.45 660.5 218.47 660.51 219.48 660.52C220.5 660.53 221.52 660.55 222.53 660.56C223.55 660.57 224.57 660.58 225.58 660.59C226.6 660.6 227.62 660.62 228.63 660.63C229.65 660.64 230.67 660.65 231.68 660.66C232.7 660.67 233.72 660.68 234.73 660.69C235.75 660.7 236.77 660.71 237.78 660.72C238.8 660.73 239.82 660.74 240.83 660.75C241.85 660.76 242.87 660.77 243.88 660.78C244.9 660.79 245.91 660.8 246.93 660.81C247.95 660.82 248.96 660.83 249.98 660.84C251 660.85 252.01 660.86 253.03 660.87C254.04 660.88 255.06 660.89 256.08 660.89C257.09 660.9 258.11 660.91 259.12 660.92C260.14 660.93 261.16 660.94 262.17 660.94C263.19 660.95 264.2 660.96 265.22 660.97C266.24 660.97 267.25 660.98 268.27 660.99C269.29 661 270.3 661 271.32 661.01C272.33 661.02 273.35 661.03 274.36 661.03C275.38 661.04 276.4 661.05 277.41 661.05C278.43 661.06 279.44 661.07 280.46 661.07C281.48 661.08 282.49 661.09 283.51 661.09C284.52 661.1 285.54 661.1 286.56 661.11C287.57 661.11 288.59 661.12 289.6 661.13C290.62 661.13 291.64 661.14 292.65 661.14C293.67 661.15 294.68 661.15 295.7 661.16C296.72 661.16 297.73 661.17 298.75 661.17C299.76 661.18 300.78 661.18 301.8 661.19C302.81 661.19 303.83 661.2 304.84 661.2C305.86 661.2 306.88 661.21 307.89 661.21C308.91 661.22 309.92 661.22 310.94 661.22C311.96 661.23 312.97 661.23 313.99 661.24C315 661.24 316.02 661.24 317.04 661.25C318.05 661.25 319.07 661.25 320.09 661.26C321.1 661.26 322.12 661.26 323.13 661.26C324.15 661.27 325.17 661.27 326.18 661.27C327.2 661.28 328.22 661.28 329.23 661.28C330.25 661.28 331.27 661.29 332.28 661.29C333.3 661.29 334.32 661.29 335.33 661.29C336.35 661.3 337.37 661.3 338.38 661.3C339.4 661.3 340.42 661.3 341.43 661.3C342.45 661.31 343.47 661.31 344.48 661.31C345.5 661.31 346.52 661.31 347.53 661.31C348.55 661.31 349.57 661.31 350.58 661.32C351.6 661.32 352.62 661.32 353.64 661.32C354.65 661.32 355.67 661.32 356.69 661.32C357.7 661.32 358.72 661.32 359.74 661.32C360.76 661.32 361.77 661.32 362.79 661.32C363.81 661.32 364.83 661.32 365.84 661.32C366.86 661.32 367.88 661.32 368.9 661.32C369.92 661.32 370.93 661.32 371.95 661.32C372.97 661.32 373.99 661.32 375 661.32C376.02 661.32 377.04 661.32 378.06 661.32C379.08 661.32 380.1 661.32 381.11 661.31C382.13 661.31 383.15 661.31 384.17 661.31C385.19 661.31 386.21 661.31 387.22 661.31C388.24 661.31 389.26 661.3 390.28 661.3C391.3 661.3 392.32 661.3 393.34 661.3C394.36 661.3 395.37 661.29 396.39 661.29C397.41 661.29 398.43 661.29 399.45 661.29C400.47 661.29 402 661.28 402.51 661.28" fill="none" stroke="#FF0000" stroke-width="1.5" stroke-dasharray="12 4.5 1.5 4.5" stroke-linejoin="round"/>
<path d="M85.47 610.32C85.75 610.75 86.55 612.09 87.15 612.9C87.75 613.72 88.38 614.49 89.05 615.22C89.72 615.96 90.42 616.64 91.15 617.3C91.88 617.95 92.65 618.56 93.44 619.14C94.22 619.72 95.04 620.26 95.88 620.77C96.71 621.29 97.57 621.77 98.45 622.22C99.33 622.68 100.23 623.1 101.14 623.5C102.05 623.9 102.98 624.27 103.92 624.63C104.86 624.98 105.81 625.31 106.77 625.62C107.73 625.93 108.7 626.23 109.67 626.51C110.64 626.79 111.61 627.05 112.59 627.3C113.57 627.55 114.55 627.78 115.54 628.01C116.52 628.23 117.51 628.44 118.5 628.64C119.49 628.83 120.48 629.02 121.48 629.19C122.47 629.37 123.47 629.53 124.47 629.68C125.48 629.83 126.48 629.97 127.48 630.1C128.49 630.24 129.5 630.36 130.51 630.47C131.52 630.58 132.53 630.69 133.54 630.78C134.56 630.88 135.57 630.97 136.59 631.05C137.61 631.13 138.62 631.2 139.64 631.27C140.66 631.34 141.68 631.4 142.71 631.46C143.73 631.51 144.75 631.56 145.78 631.61C146.8 631.65 147.83 631.69 148.85 631.73C149.88 631.77 150.9 631.8 151.93 631.83C152.96 631.86 153.98 631.89 155.01 631.92C156.04 631.94 157.07 631.97 158.09 631.99C159.12 632.01 160.15 632.03 161.18 632.05C162.2 632.08 163.23 632.1 164.26 632.12C165.28 632.14 166.31 632.16 167.34 632.18C168.36 632.2 169.39 632.22 170.42 632.24C171.44 632.27 172.47 632.29 173.49 632.31C174.52 632.33 175.54 632.35 176.57 632.37C177.59 632.4 178.61 632.42 179.64 632.44C180.66 632.46 181.69 632.48 182.71 632.5C183.73 632.53 184.76 632.55 185.78 632.57C186.8 632.59 187.82 632.61 188.85 632.64C189.87 632.66 190.89 632.68 191.91 632.7C192.93 632.72 193.95 632.74 194.98 632.77C196 632.79 197.02 632.81 198.04 632.83C199.06 632.85 200.08 632.88 201.1 632.9C202.12 632.92 203.14 632.94 204.16 632.96C205.18 632.99 206.2 633.01 207.22 633.03C208.24 633.05 209.26 633.07 210.28 633.1C211.3 633.12 212.32 633.14 213.34 633.16C214.35 633.18 215.37 633.2 216.39 633.23C217.41 633.25 218.43 633.27 219.45 633.29C220.46 633.31 221.48 633.33 222.5 633.35C223.52 633.38 224.53 633.4 225.55 633.42C226.57 633.44 227.59 633.46 228.6 633.48C229.62 633.5 230.64 633.52 231.65 633.54C232.67 633.56 233.69 633.59 234.7 633.61C235.72 633.63 236.74 633.65 237.75 633.67C238.77 633.69 239.79 633.71 240.8 633.73C241.82 633.75 242.83 633.77 243.85 633.79C244.87 633.81 245.88 633.83 246.9 633.85C247.91 633.87 248.93 633.89 249.94 633.91C250.96 633.92 251.97 633.94 252.99 633.96C254 633.98 255.02 634 256.03 634.02C257.05 634.04 258.06 634.06 259.08 634.08C260.09 634.09 261.11 634.11 262.12 634.13C263.14 634.15 264.15 634.17 265.17 634.18C266.18 634.2 267.2 634.22 268.21 634.24C269.23 634.25 270.24 634.27 271.26 634.29C272.27 634.3 273.28 634.32 274.3 634.34C275.31 634.35 276.33 634.37 277.34 634.38C278.36 634.4 279.37 634.42 280.39 634.43C281.4 634.45 282.41 634.46 283.43 634.48C284.44 634.49 285.46 634.51 286.47 634.52C287.49 634.54 288.5 634.55 289.52 634.56C290.53 634.58 291.54 634.59 292.56 634.6C293.57 634.62 294.59 634.63 295.6 634.64C296.62 634.66 297.63 634.67 298.65 634.68C299.66 634.69 300.67 634.71 301.69 634.72C302.7 634.73 303.72 634.74 304.73 634.75C305.75 634.76 306.76 634.77 307.78 634.78C308.79 634.8 309.81 634.81 310.82 634.82C311.84 634.83 312.85 634.83 313.87 634.84C314.88 634.85 315.9 634.86 316.91 634.87C317.93 634.88 318.95 634.89 319.96 634.9C320.98 634.9 321.99 634.91 323.01 634.92C324.02 634.93 325.04 634.93 326.06 634.94C327.07 634.94 328.09 634.95 329.1 634.96C330.12 634.96 331.14 634.97 332.15 634.97C333.17 634.98 334.19 634.98 335.2 634.99C336.22 634.99 337.24 634.99 338.25 635C339.27 635 340.29 635 341.31 635.01C342.32 635.01 343.34 635.01 344.36 635.01C345.38 635.02 346.39 635.02 347.41 635.02C348.43 635.02 349.45 635.02 350.47 635.02C351.48 635.02 352.5 635.02 353.52 635.02C354.54 635.02 355.56 635.02 356.58 635.01C357.6 635.01 358.62 635.01 359.64 635.01C360.66 635.01 361.68 635 362.7 635C363.72 635 364.74 634.99 365.76 634.99C366.78 634.98 367.8 634.98 368.82 634.97C369.84 634.97 370.86 634.96 371.88 634.95C372.9 634.95 373.92 634.94 374.95 634.93C375.97 634.93 376.99 634.92 378.01 634.91C379.03 634.9 380.06 634.89 381.08 634.88C382.1 634.87 383.13 634.86 384.15 634.85C385.17 634.84 386.2 634.83 387.22 634.82C388.24 634.81 389.27 634.8 390.29 634.78C391.32 634.77 392.34 634.76 393.37 634.74C394.39 634.73 395.42 634.72 396.44 634.7C397.47 634.69 398.49 634.67 399.52 634.66C400.55 634.64 402.09 634.61 402.6 634.61" fill="none" stroke="#FFC000" stroke-width="1.5" stroke-linejoin="round"/>
<path d="M86.57 415.61C86.57 416.12 86.55 417.64 86.57 418.66C86.59 419.67 86.63 420.68 86.68 421.69C86.74 422.7 86.81 423.71 86.9 424.71C86.98 425.72 87.08 426.72 87.2 427.72C87.31 428.72 87.44 429.71 87.58 430.71C87.72 431.71 87.88 432.7 88.04 433.69C88.21 434.69 88.38 435.68 88.57 436.67C88.75 437.66 88.95 438.64 89.15 439.63C89.36 440.62 89.57 441.6 89.79 442.59C90.01 443.57 90.23 444.56 90.46 445.54C90.69 446.52 90.93 447.51 91.17 448.49C91.41 449.47 91.66 450.45 91.91 451.43C92.16 452.41 92.41 453.39 92.66 454.37C92.91 455.35 93.17 456.33 93.42 457.31C93.67 458.29 93.93 459.27 94.18 460.25C94.44 461.23 94.69 462.21 94.94 463.19C95.2 464.18 95.45 465.16 95.7 466.14C95.96 467.12 96.21 468.1 96.46 469.08C96.72 470.06 96.98 471.04 97.23 472.01C97.49 472.99 97.75 473.97 98.01 474.95C98.27 475.92 98.54 476.9 98.8 477.88C99.07 478.85 99.34 479.83 99.61 480.8C99.88 481.77 100.15 482.75 100.43 483.72C100.71 484.69 100.99 485.66 101.28 486.62C101.56 487.59 101.85 488.56 102.15 489.52C102.44 490.49 102.74 491.45 103.05 492.41C103.35 493.37 103.66 494.33 103.97 495.29C104.29 496.25 104.61 497.2 104.94 498.15C105.26 499.11 105.6 500.06 105.94 501C106.28 501.95 106.62 502.9 106.98 503.84C107.33 504.78 107.69 505.72 108.06 506.66C108.43 507.6 108.81 508.53 109.19 509.46C109.57 510.39 109.97 511.32 110.37 512.25C110.77 513.17 111.18 514.09 111.6 515.01C112.01 515.93 112.44 516.85 112.87 517.76C113.31 518.67 113.75 519.58 114.19 520.49C114.64 521.4 115.1 522.3 115.56 523.2C116.02 524.1 116.49 525 116.96 525.89C117.44 526.78 117.92 527.67 118.41 528.56C118.9 529.45 119.39 530.34 119.89 531.22C120.39 532.1 120.9 532.98 121.41 533.85C121.92 534.73 122.44 535.6 122.96 536.47C123.48 537.34 124.01 538.2 124.54 539.07C125.07 539.93 125.61 540.79 126.15 541.65C126.69 542.5 127.24 543.36 127.79 544.21C128.34 545.06 128.89 545.9 129.45 546.74C130.02 547.59 130.58 548.42 131.16 549.25C131.73 550.08 132.31 550.91 132.9 551.73C133.49 552.55 134.08 553.36 134.69 554.17C135.29 554.98 135.9 555.78 136.52 556.57C137.14 557.36 137.77 558.14 138.4 558.92C139.04 559.7 139.69 560.46 140.34 561.22C141 561.98 141.66 562.73 142.34 563.47C143.02 564.21 143.71 564.94 144.4 565.65C145.1 566.37 145.81 567.08 146.53 567.77C147.25 568.47 147.99 569.16 148.73 569.83C149.47 570.51 150.23 571.17 150.99 571.83C151.75 572.49 152.52 573.14 153.3 573.78C154.07 574.42 154.86 575.06 155.65 575.69C156.44 576.31 157.24 576.94 158.04 577.56C158.84 578.18 159.64 578.79 160.45 579.4C161.26 580.01 162.07 580.62 162.89 581.22C163.7 581.83 164.51 582.43 165.33 583.04C166.15 583.64 166.97 584.24 167.79 584.83C168.61 585.43 169.43 586.02 170.26 586.61C171.08 587.2 171.91 587.79 172.74 588.38C173.57 588.96 174.4 589.54 175.23 590.11C176.07 590.69 176.91 591.26 177.75 591.83C178.59 592.39 179.43 592.95 180.28 593.51C181.12 594.06 181.97 594.61 182.83 595.16C183.68 595.7 184.54 596.24 185.4 596.77C186.26 597.3 187.12 597.82 187.99 598.34C188.86 598.86 189.73 599.37 190.6 599.87C191.48 600.38 192.36 600.87 193.24 601.36C194.12 601.86 195 602.34 195.89 602.82C196.78 603.29 197.67 603.76 198.57 604.23C199.46 604.69 200.36 605.15 201.26 605.6C202.17 606.05 203.07 606.49 203.98 606.93C204.89 607.37 205.8 607.8 206.71 608.23C207.63 608.65 208.54 609.07 209.46 609.48C210.38 609.89 211.31 610.3 212.23 610.7C213.16 611.09 214.09 611.49 215.02 611.87C215.95 612.26 216.88 612.64 217.82 613.01C218.75 613.38 219.69 613.75 220.63 614.11C221.57 614.47 222.52 614.83 223.46 615.18C224.41 615.52 225.36 615.86 226.31 616.2C227.26 616.54 228.21 616.87 229.17 617.19C230.12 617.51 231.08 617.83 232.04 618.14C233 618.45 233.96 618.76 234.93 619.05C235.89 619.35 236.86 619.65 237.82 619.93C238.79 620.22 239.76 620.5 240.73 620.77C241.7 621.05 242.68 621.32 243.65 621.58C244.62 621.84 245.6 622.1 246.58 622.35C247.56 622.6 248.54 622.85 249.52 623.09C250.5 623.33 251.48 623.57 252.46 623.8C253.45 624.03 254.43 624.26 255.42 624.48C256.4 624.71 257.39 624.93 258.38 625.14C259.37 625.36 260.36 625.57 261.35 625.77C262.34 625.98 263.33 626.19 264.32 626.39C265.31 626.59 266.31 626.79 267.3 626.98C268.29 627.18 269.29 627.37 270.28 627.56C271.28 627.75 272.27 627.93 273.27 628.12C274.26 628.31 275.26 628.49 276.26 628.67C277.25 628.85 278.25 629.03 279.25 629.21C280.24 629.39 281.24 629.56 282.24 629.74C283.23 629.91 284.23 630.09 285.23 630.26C286.23 630.44 287.22 630.61 288.22 630.78C289.22 630.96 290.21 631.13 291.21 631.3C292.21 631.47 293.2 631.65 294.2 631.82C295.2 631.99 296.19 632.17 297.19 632.34C298.18 632.52 299.18 632.69 300.17 632.87C301.16 633.04 302.16 633.22 303.15 633.4C304.14 633.57 305.13 633.75 306.13 633.93C307.12 634.11 308.11 634.29 309.1 634.46C310.09 634.64 311.09 634.81 312.08 634.98C313.07 635.15 314.06 635.32 315.06 635.49C316.05 635.65 317.04 635.82 318.04 635.98C319.03 636.13 320.02 636.29 321.02 636.44C322.02 636.59 323.01 636.73 324.01 636.87C325.01 637.01 326.01 637.14 327.01 637.27C328.01 637.4 329.01 637.52 330.01 637.64C331.01 637.76 332.02 637.87 333.02 637.98C334.02 638.09 335.03 638.19 336.04 638.29C337.04 638.4 338.05 638.49 339.05 638.59C340.06 638.69 341.07 638.78 342.07 638.87C343.08 638.97 344.09 639.06 345.1 639.15C346.1 639.24 347.11 639.33 348.12 639.42C349.13 639.51 350.14 639.59 351.14 639.68C352.15 639.77 353.16 639.85 354.17 639.94C355.18 640.03 356.19 640.11 357.19 640.2C358.2 640.28 359.21 640.37 360.22 640.45C361.23 640.54 362.24 640.62 363.24 640.71C364.25 640.79 365.26 640.87 366.27 640.96C367.28 641.04 368.29 641.13 369.29 641.21C370.3 641.3 371.31 641.38 372.32 641.47C373.33 641.55 374.33 641.64 375.34 641.72C376.35 641.81 377.36 641.89 378.36 641.98C379.37 642.06 380.38 642.15 381.39 642.24C382.39 642.32 383.4 642.41 384.41 642.5C385.41 642.59 386.42 642.68 387.42 642.77C388.43 642.86 389.44 642.95 390.44 643.04C391.45 643.13 392.45 643.23 393.46 643.32C394.46 643.42 395.47 643.51 396.47 643.61C397.48 643.7 398.48 643.8 399.48 643.9C400.49 644 401.99 644.15 402.49 644.2" fill="none" stroke="#FFC000" stroke-width="1.5" stroke-dasharray="12 4.5 1.5 4.5" stroke-linejoin="round"/>
<path d="M86.55 401.44C86.6 401.94 86.74 403.45 86.86 404.45C86.97 405.45 87.1 406.45 87.24 407.45C87.38 408.45 87.53 409.44 87.69 410.44C87.84 411.43 88.01 412.43 88.19 413.42C88.37 414.41 88.56 415.4 88.76 416.39C88.95 417.38 89.16 418.37 89.37 419.36C89.59 420.35 89.81 421.33 90.03 422.32C90.26 423.3 90.5 424.29 90.74 425.27C90.98 426.25 91.22 427.24 91.47 428.22C91.72 429.2 91.98 430.18 92.24 431.16C92.5 432.14 92.76 433.12 93.03 434.09C93.3 435.07 93.57 436.05 93.84 437.03C94.11 438 94.39 438.98 94.67 439.96C94.94 440.93 95.22 441.91 95.5 442.88C95.78 443.86 96.06 444.83 96.34 445.81C96.62 446.78 96.9 447.75 97.18 448.73C97.46 449.7 97.74 450.67 98.03 451.65C98.31 452.62 98.59 453.59 98.88 454.56C99.17 455.53 99.45 456.5 99.74 457.47C100.03 458.44 100.32 459.41 100.61 460.38C100.9 461.35 101.2 462.32 101.49 463.28C101.79 464.25 102.09 465.22 102.39 466.18C102.69 467.15 102.99 468.11 103.3 469.07C103.61 470.04 103.92 471 104.23 471.96C104.54 472.92 104.86 473.88 105.17 474.84C105.49 475.8 105.82 476.76 106.14 477.71C106.47 478.67 106.8 479.63 107.13 480.58C107.47 481.53 107.8 482.49 108.14 483.44C108.49 484.39 108.83 485.34 109.18 486.29C109.53 487.23 109.89 488.18 110.25 489.12C110.61 490.07 110.98 491.01 111.35 491.96C111.72 492.9 112.09 493.84 112.47 494.78C112.85 495.71 113.24 496.65 113.63 497.58C114.02 498.52 114.41 499.45 114.82 500.38C115.22 501.31 115.62 502.24 116.03 503.17C116.45 504.09 116.86 505.02 117.28 505.94C117.71 506.86 118.13 507.78 118.57 508.7C119 509.61 119.44 510.53 119.88 511.44C120.32 512.35 120.77 513.26 121.23 514.17C121.68 515.07 122.14 515.98 122.61 516.88C123.07 517.78 123.54 518.68 124.02 519.57C124.5 520.46 124.98 521.36 125.47 522.24C125.95 523.13 126.45 524.02 126.95 524.9C127.45 525.78 127.95 526.66 128.46 527.54C128.97 528.41 129.49 529.28 130.01 530.15C130.53 531.02 131.06 531.89 131.59 532.75C132.13 533.61 132.67 534.47 133.21 535.32C133.76 536.17 134.31 537.02 134.87 537.87C135.43 538.71 135.99 539.55 136.56 540.39C137.13 541.23 137.71 542.06 138.3 542.88C138.88 543.71 139.47 544.53 140.07 545.34C140.67 546.15 141.28 546.96 141.89 547.76C142.5 548.57 143.12 549.36 143.75 550.15C144.38 550.94 145.02 551.72 145.66 552.49C146.31 553.27 146.96 554.03 147.62 554.79C148.28 555.55 148.95 556.3 149.63 557.05C150.31 557.79 151 558.52 151.7 559.25C152.39 559.97 153.1 560.69 153.81 561.4C154.53 562.1 155.25 562.8 155.99 563.49C156.72 564.17 157.47 564.85 158.22 565.52C158.97 566.19 159.74 566.85 160.5 567.5C161.27 568.16 162.05 568.8 162.83 569.44C163.62 570.08 164.4 570.71 165.2 571.34C165.99 571.97 166.79 572.59 167.59 573.22C168.39 573.84 169.2 574.46 170.01 575.07C170.82 575.69 171.63 576.31 172.44 576.92C173.25 577.54 174.07 578.15 174.88 578.77C175.69 579.38 176.5 580 177.32 580.62C178.13 581.24 178.94 581.86 179.75 582.49C180.56 583.11 181.36 583.73 182.17 584.36C182.98 584.98 183.79 585.6 184.6 586.22C185.42 586.84 186.23 587.46 187.04 588.08C187.86 588.69 188.67 589.3 189.49 589.91C190.31 590.51 191.14 591.11 191.96 591.7C192.79 592.29 193.62 592.87 194.46 593.45C195.29 594.02 196.13 594.59 196.98 595.14C197.83 595.69 198.68 596.23 199.54 596.77C200.39 597.3 201.26 597.82 202.13 598.33C203 598.84 203.87 599.34 204.75 599.83C205.63 600.32 206.52 600.8 207.41 601.27C208.3 601.74 209.19 602.2 210.09 602.65C210.99 603.1 211.89 603.55 212.8 603.98C213.71 604.41 214.62 604.84 215.54 605.26C216.46 605.67 217.38 606.08 218.3 606.48C219.23 606.88 220.16 607.28 221.09 607.66C222.02 608.05 222.95 608.42 223.89 608.79C224.83 609.17 225.77 609.53 226.72 609.89C227.66 610.24 228.61 610.6 229.56 610.94C230.51 611.28 231.47 611.62 232.42 611.96C233.38 612.29 234.33 612.62 235.29 612.94C236.25 613.26 237.22 613.58 238.18 613.89C239.14 614.2 240.11 614.51 241.08 614.81C242.04 615.11 243.01 615.41 243.98 615.7C244.95 616 245.93 616.29 246.9 616.57C247.87 616.86 248.84 617.14 249.82 617.42C250.79 617.7 251.77 617.98 252.74 618.25C253.72 618.52 254.7 618.79 255.67 619.06C256.65 619.33 257.63 619.59 258.61 619.85C259.59 620.11 260.57 620.37 261.55 620.63C262.53 620.88 263.51 621.13 264.49 621.38C265.47 621.63 266.45 621.88 267.43 622.12C268.42 622.36 269.4 622.6 270.38 622.84C271.37 623.08 272.35 623.31 273.34 623.54C274.32 623.78 275.31 624.01 276.3 624.23C277.28 624.46 278.27 624.68 279.26 624.9C280.24 625.12 281.23 625.34 282.22 625.56C283.21 625.77 284.2 625.99 285.19 626.2C286.18 626.41 287.17 626.62 288.16 626.82C289.15 627.03 290.14 627.23 291.14 627.43C292.13 627.63 293.12 627.83 294.11 628.02C295.11 628.22 296.1 628.41 297.09 628.6C298.09 628.79 299.08 628.98 300.08 629.17C301.07 629.35 302.07 629.54 303.06 629.72C304.06 629.9 305.06 630.08 306.05 630.26C307.05 630.43 308.05 630.61 309.04 630.78C310.04 630.95 311.04 631.12 312.04 631.29C313.04 631.46 314.03 631.63 315.03 631.79C316.03 631.95 317.03 632.12 318.03 632.28C319.03 632.44 320.03 632.59 321.03 632.75C322.03 632.9 323.03 633.06 324.03 633.21C325.04 633.36 326.04 633.51 327.04 633.66C328.04 633.81 329.04 633.96 330.05 634.1C331.05 634.24 332.05 634.39 333.05 634.53C334.06 634.67 335.06 634.81 336.06 634.95C337.07 635.08 338.07 635.22 339.07 635.35C340.08 635.49 341.08 635.62 342.09 635.75C343.09 635.88 344.1 636.01 345.1 636.14C346.11 636.27 347.11 636.39 348.12 636.52C349.12 636.64 350.13 636.76 351.13 636.88C352.14 637.01 353.14 637.13 354.15 637.24C355.16 637.36 356.16 637.48 357.17 637.6C358.17 637.71 359.18 637.83 360.19 637.94C361.19 638.05 362.2 638.16 363.21 638.27C364.21 638.38 365.22 638.49 366.23 638.6C367.23 638.71 368.24 638.82 369.25 638.92C370.25 639.03 371.26 639.13 372.27 639.24C373.27 639.34 374.28 639.44 375.29 639.54C376.3 639.64 377.3 639.74 378.31 639.84C379.32 639.94 380.32 640.04 381.33 640.14C382.34 640.23 383.35 640.33 384.35 640.42C385.36 640.52 386.37 640.61 387.37 640.71C388.38 640.8 389.39 640.89 390.4 640.99C391.4 641.08 392.41 641.17 393.42 641.26C394.42 641.35 395.43 641.44 396.44 641.53C397.44 641.61 398.45 641.7 399.46 641.79C400.46 641.88 401.97 642.01 402.47 642.05" fill="none" stroke="#00B0F0" stroke-width="1.5" stroke-dasharray="6 4.5 1.5 4.5" stroke-linejoin="round"/>
<path d="M86.1 392.7 H402.5" stroke="#00B0F0" stroke-width="2.5"/>
<ellipse cx="340" cy="631.25" rx="6.1" ry="5.5" fill="#FFC000" stroke="#000" stroke-width="1.5"/>
<rect x="85.8" y="393.6" width="79.1" height="270" fill="#D9D9D9" fill-opacity="0.5"/>
<text x="43.5" y="286.2" font-size="22.2" font-family="'Liberation Serif', serif" fill="#000">0.0</text>
<text x="43.87" y="232.08" font-size="22.2" font-family="'Liberation Serif', serif" fill="#000">0.2</text>
<text x="43" y="177.96" font-size="22.2" font-family="'Liberation Serif', serif" fill="#000">0.4</text>
<text x="43.31" y="123.84" font-size="22.2" font-family="'Liberation Serif', serif" fill="#000">0.6</text>
<text x="43.5" y="69.72" font-size="22.2" font-family="'Liberation Serif', serif" fill="#000">0.8</text>
<text x="43.5" y="15.6" font-size="22.2" font-family="'Liberation Serif', serif" fill="#000">1.0</text>
<text x="85.51" y="311" font-size="21.5" font-family="'Liberation Serif', serif" fill="#000">4</text>
<text x="179.29" y="311" font-size="21.5" font-family="'Liberation Serif', serif" fill="#000">6</text>
<text x="273.31" y="311" font-size="21.5" font-family="'Liberation Serif', serif" fill="#000">8</text>
<text x="361.28" y="311" font-size="21.5" font-family="'Liberation Serif', serif" fill="#000">10</text>
<text x="455.35" y="311" font-size="21.5" font-family="'Liberation Serif', serif" fill="#000">12</text>
<text x="40.89" y="669.6" font-size="21.3" font-family="'Liberation Serif', serif" fill="#000">0.0</text>
<text x="41.25" y="615.38" font-size="21.3" font-family="'Liberation Serif', serif" fill="#000">0.2</text>
<text x="40.41" y="561.16" font-size="21.3" font-family="'Liberation Serif', serif" fill="#000">0.4</text>
<text x="40.71" y="506.94" font-size="21.3" font-family="'Liberation Serif', serif" fill="#000">0.6</text>
<text x="40.89" y="452.72" font-size="21.3" font-family="'Liberation Serif', serif" fill="#000">0.8</text>
<text x="40.89" y="398.5" font-size="21.3" font-family="'Liberation Serif', serif" fill="#000">1.0</text>
<text x="80.67" y="695.4" font-size="21.3" font-family="'Liberation Serif', serif" fill="#000">0</text>
<text x="136.05" y="695.4" font-size="21.3" font-family="'Liberation Serif', serif" fill="#000">0.2</text>
<text x="198.81" y="695.4" font-size="21.3" font-family="'Liberation Serif', serif" fill="#000">0.4</text>
<text x="262.14" y="695.4" font-size="21.3" font-family="'Liberation Serif', serif" fill="#000">0.6</text>
<text x="325.41" y="695.4" font-size="21.3" font-family="'Liberation Serif', serif" fill="#000">0.8</text>
<text x="396.28" y="695.4" font-size="21.3" font-family="'Liberation Serif', serif" fill="#000">1</text>
<text x="451.42" y="695.4" font-size="21.3" font-family="'Liberation Serif', serif" fill="#000">1.2</text>
<text x="208.51" y="346.3" font-size="24" font-family="'Liberation Serif', serif" fill="#000" textLength="38.65" lengthAdjust="spacing">-log</text>
<text x="247.09" y="351.6" font-size="16" font-family="'Liberation Serif', serif" fill="#000" textLength="15.52" lengthAdjust="spacing">10</text>
<text x="264.22" y="346.3" font-size="24" font-family="'Liberation Serif', serif" fill="#000" textLength="36.58" lengthAdjust="spacing">{[H</text>
<text x="300" y="339.3" font-size="16" font-family="'Liberation Serif', serif" fill="#000">+</text>
<text x="309.83" y="346.3" font-size="24" font-family="'Liberation Serif', serif" fill="#000" textLength="25.21" lengthAdjust="spacing">]/c</text>
<text x="334.49" y="351.4" font-size="16" font-family="'Liberation Serif', serif" fill="#000">0</text>
<text x="343.12" y="346.3" font-size="24" font-family="'Liberation Serif', serif" fill="#000">}</text>
<text x="158.62" y="731.8" font-size="24.3" font-family="'Liberation Serif', serif" fill="#000" textLength="134" lengthAdjust="spacing">Ionic strength</text>
<text x="302" y="731.8" font-size="24.3" font-family="'Liberation Serif', serif" fill="#000">/</text>
<text x="315.89" y="731.8" font-size="24.3" font-family="'Liberation Serif', serif" fill="#000" textLength="75.09" lengthAdjust="spacing">mol dm</text>
<text x="390.54" y="723.9" font-size="15" font-family="'Liberation Serif', serif" fill="#000" textLength="12.34" lengthAdjust="spacing">-3</text>
<text transform="translate(18.6 449.1) rotate(-90)" x="-0.71" y="0" font-size="24.5" font-family="'Liberation Serif', serif" fill="#000" textLength="79.88" lengthAdjust="spacing">Fraction</text>
<text transform="translate(18.6 359.7) rotate(-90)" x="-0.93" y="0" font-size="24.5" font-family="'Liberation Serif', serif" fill="#000" textLength="22.43" lengthAdjust="spacing">of</text>
<text transform="translate(18.6 333.4) rotate(-90)" x="-0.93" y="0" font-size="24.5" font-family="'Liberation Serif', serif" fill="#000" textLength="106.13" lengthAdjust="spacing">complexed</text>
<text transform="translate(18.6 218.2) rotate(-90)" x="-0.66" y="0" font-size="24.5" font-family="'Liberation Serif', serif" fill="#000" textLength="39.81" lengthAdjust="spacing">zinc</text>
<text x="429.72" y="44.2" font-size="24.5" font-family="'Liberation Serif', serif" fill="#000" textLength="28.65" lengthAdjust="spacing">(a)</text>
<text x="430.92" y="424.6" font-size="24.5" font-family="'Liberation Serif', serif" fill="#000" textLength="28.45" lengthAdjust="spacing">(b)</text>
<rect x="397" y="70.8" width="56.3" height="75.2" fill="none" stroke="#000" stroke-width="1.4"/>
<text x="407.71" y="94.6" font-size="17.6" font-family="'Liberation Sans', sans-serif" fill="#FF0000" textLength="35.25" lengthAdjust="spacing">0.01</text>
<text x="407.71" y="113.5" font-size="17.6" font-family="'Liberation Sans', sans-serif" fill="#FFC000" textLength="35.08" lengthAdjust="spacing">0.10</text>
<text x="408.06" y="132.5" font-size="17.6" font-family="'Liberation Sans', sans-serif" fill="#00B0F0" textLength="36.13" lengthAdjust="spacing">1.00</text>
<rect x="360.9" y="518.2" width="55.7" height="74.9" fill="none" stroke="#000" stroke-width="1.4"/>
<text x="371.5" y="541.9" font-size="17.6" font-family="'Liberation Sans', sans-serif" fill="#FF0000" textLength="35.99" lengthAdjust="spacing">4.00</text>
<text x="371.01" y="560" font-size="17.6" font-family="'Liberation Sans', sans-serif" fill="#FFC000" textLength="36.48" lengthAdjust="spacing">6.00</text>
<text x="371.14" y="579.3" font-size="17.6" font-family="'Liberation Sans', sans-serif" fill="#00B0F0" textLength="36.35" lengthAdjust="spacing">8.00</text>
<text transform="translate(118.1 67.1) rotate(-90)" x="-0.42" y="0" font-size="21" font-family="'Liberation Serif', serif" fill="#000" textLength="33.84" lengthAdjust="spacing">root</text>
<text transform="translate(262.2 232.3) rotate(-90)" x="-0.74" y="0" font-size="21" font-family="'Liberation Serif', serif" fill="#000" textLength="81.07" lengthAdjust="spacing">aggregate</text>
<text transform="translate(157.5 533.9) rotate(-90)" x="-0.42" y="0" font-size="21" font-family="'Liberation Serif', serif" fill="#000" textLength="33.84" lengthAdjust="spacing">root</text>
<text transform="translate(105.2 598) rotate(-90)" x="-0.74" y="0" font-size="21" font-family="'Liberation Serif', serif" fill="#000" textLength="80.27" lengthAdjust="spacing">aggregate</text>
<text x="362.96" y="198.4" font-size="21" font-family="'Liberation Serif', serif" fill="#000" textLength="78.07" lengthAdjust="spacing">pH range</text>
<text x="362.7" y="223.6" font-size="21" font-family="'Liberation Serif', serif" fill="#000" textLength="55.53" lengthAdjust="spacing">of rice</text>
<text x="362.78" y="249.4" font-size="21" font-family="'Liberation Serif', serif" fill="#000" textLength="98.35" lengthAdjust="spacing">rhizosphere</text>
<path d="M348.9 228.4 H284" stroke="#333" stroke-width="1.1"/>
<path d="M275.9 228.4 L284.9 224.1 L284.9 232.7 Z" fill="#000"/>
<text x="214.56" y="461.2" font-size="21" font-family="'Liberation Serif', serif" fill="#000">ion strength</text>
<text x="322.38" y="461.2" font-size="21" font-family="'Liberation Serif', serif" fill="#000" textLength="44.85" lengthAdjust="spacing">range</text>
<text x="214.2" y="486.8" font-size="21" font-family="'Liberation Serif', serif" fill="#000" textLength="159.53" lengthAdjust="spacing">of rice rhizosphere</text>
<path d="M194.7 465.4 H178" stroke="#333" stroke-width="1.1"/>
<path d="M170.2 465.4 L179.1 461.1 L179.1 469.7 Z" fill="#000"/>
<text x="499.24" y="333" font-size="21" font-family="'Liberation Serif', serif" fill="#000" textLength="36.02" lengthAdjust="spacing">[Zn]</text>
<text x="535.55" y="336.9" font-size="14" font-family="'Liberation Serif', serif" fill="#000">T</text>
<text x="550.35" y="333" font-size="23" font-family="'Liberation Serif', serif" fill="#000">=</text>
<text x="569.75" y="333" font-size="21" font-family="'Liberation Serif', serif" fill="#000" textLength="20.25" lengthAdjust="spacing">10</text>
<text x="589.38" y="326.6" font-size="14" font-family="'Liberation Serif', serif" fill="#000" textLength="10.64" lengthAdjust="spacing">-6</text>
<text x="608.66" y="333" font-size="21" font-family="'Liberation Serif', serif" fill="#000" textLength="31.46" lengthAdjust="spacing">mol</text>
<text x="647.04" y="333" font-size="21" font-family="'Liberation Serif', serif" fill="#000" textLength="25.89" lengthAdjust="spacing">dm</text>
<text x="672.28" y="327.3" font-size="14" font-family="'Liberation Serif', serif" fill="#000" textLength="10.77" lengthAdjust="spacing">-3</text>
<text x="499.24" y="358" font-size="21" font-family="'Liberation Serif', serif" fill="#000" textLength="27.22" lengthAdjust="spacing">[L]</text>
<text x="525.45" y="361.7" font-size="14" font-family="'Liberation Serif', serif" fill="#000">T</text>
<text x="539.85" y="358" font-size="23" font-family="'Liberation Serif', serif" fill="#000">=</text>
<text x="558.85" y="358" font-size="21" font-family="'Liberation Serif', serif" fill="#000" textLength="20.15" lengthAdjust="spacing">10</text>
<text x="578.38" y="352.1" font-size="14" font-family="'Liberation Serif', serif" fill="#000" textLength="12.07" lengthAdjust="spacing">-5</text>
<text x="596.26" y="358" font-size="21" font-family="'Liberation Serif', serif" fill="#000" textLength="30.76" lengthAdjust="spacing">mol</text>
<text x="633.84" y="358" font-size="21" font-family="'Liberation Serif', serif" fill="#000" textLength="26.69" lengthAdjust="spacing">dm</text>
<text x="660.38" y="352.3" font-size="14" font-family="'Liberation Serif', serif" fill="#000" textLength="9.87" lengthAdjust="spacing">-3</text>
<path d="M504.6 402.5 H516" stroke="#000" stroke-width="1.6"/>
<path d="M521 402.5 H522.6 M526.6 402.5 H528.2" stroke="#000" stroke-width="1.4"/>
<path d="M504.6 421.8 H532.1" stroke="#000" stroke-width="1.8"/>
<text x="546.74" y="408.7" font-size="21" font-family="'Liberation Serif', serif" fill="#000" textLength="56.19" lengthAdjust="spacing">Citrate</text>
<text x="547" y="427.9" font-size="21" font-family="'Liberation Serif', serif" fill="#000" textLength="56.23" lengthAdjust="spacing">DFOB</text>
</svg>
</body></html>
